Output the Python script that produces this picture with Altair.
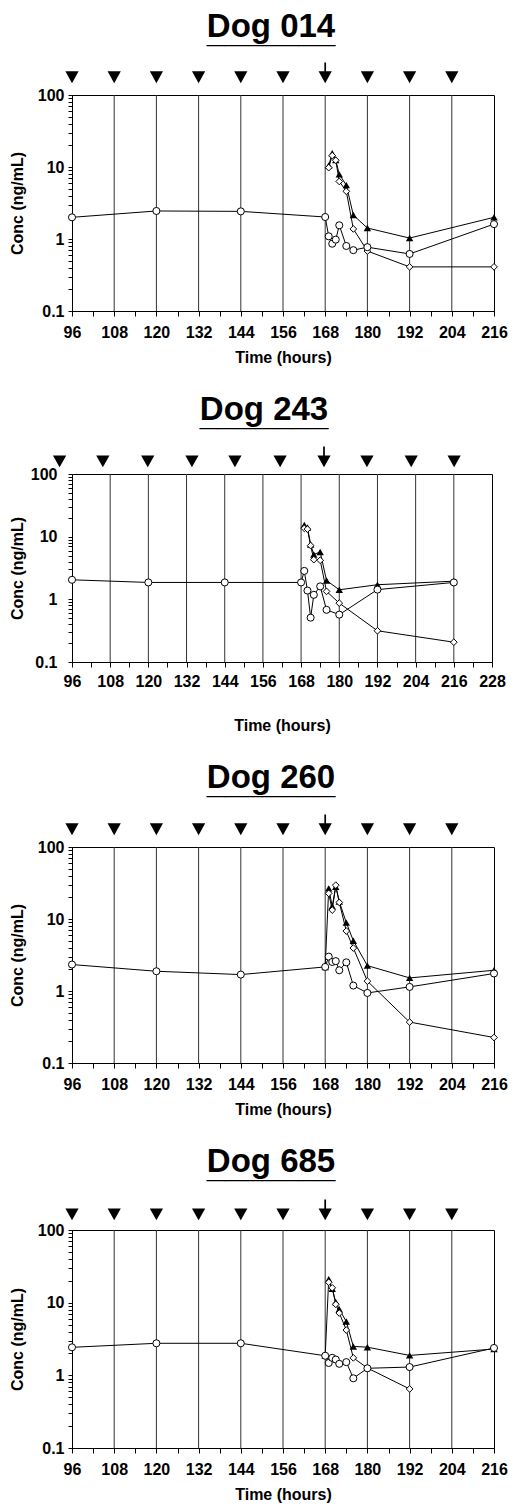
import altair as alt
import pandas as pd

# ---------------- data ----------------
titles = ["Dog 014", "Dog 243", "Dog 260", "Dog 685"]

# Dog 014
d014_circ_t = [96, 120, 144, 168, 169, 170, 171, 172, 174, 176, 180, 192, 216]
d014_circ_v = [2.0, 2.45, 2.42, 2.02, 1.09, 0.86, 0.98, 1.55, 0.80, 0.70, 0.77, 0.62, 1.61]
d014_tri_t = [169, 170, 171, 172, 174, 176, 180, 192, 216]
d014_tri_v = [10.5, 15.5, 12.5, 7.9, 5.6, 2.15, 1.42, 1.03, 2.0]
d014_dia_t = [169, 170, 171, 172, 174, 176, 180, 192, 216]
d014_dia_v = [9.8, 14.4, 12.4, 6.3, 4.6, 1.38, 0.68, 0.41, 0.41]

# Dog 243
d243_circ_t = [96, 120, 144, 168, 169, 170, 171, 172, 174, 176, 180, 192, 216]
d243_circ_v = [2.05, 1.86, 1.86, 1.86, 2.84, 1.38, 0.51, 1.18, 1.61, 0.68, 0.57, 1.43, 1.86]
d243_tri_t = [169, 170, 171, 172, 174, 176, 180, 192, 216]
d243_tri_v = [15.4, 14.0, 7.5, 5.2, 5.7, 2.0, 1.42, 1.71, 1.95]
d243_dia_t = [169, 170, 171, 172, 174, 176, 180, 192, 216]
d243_dia_v = [13.6, 13.2, 7.2, 4.3, 4.2, 1.34, 0.87, 0.315, 0.207]

# Dog 260
d260_circ_t = [96, 120, 144, 168, 169, 170, 171, 172, 174, 176, 180, 192, 216]
d260_circ_v = [2.33, 1.88, 1.69, 2.16, 3.0, 2.53, 2.6, 1.94, 2.5, 1.19, 0.94, 1.14, 1.75]
d260_tri_t = [168, 169, 170, 171, 172, 174, 176, 180, 192, 216]
d260_tri_v = [2.16, 26.6, 15.0, 28.0, 17.5, 8.9, 5.0, 2.25, 1.52, 1.94]
d260_dia_t = [169, 170, 171, 172, 174, 176, 180, 192, 216]
d260_dia_v = [22.7, 13.3, 29.5, 17.0, 6.8, 3.95, 1.37, 0.37, 0.226]

# Dog 685
d685_circ_t = [96, 120, 144, 168, 169, 170, 171, 172, 174, 176, 180, 192, 216]
d685_circ_v = [2.43, 2.76, 2.76, 1.86, 1.48, 1.74, 1.65, 1.44, 1.52, 0.91, 1.25, 1.30, 2.38]
d685_tri_t = [168, 169, 170, 171, 172, 174, 176, 180, 192, 216]
d685_tri_v = [1.86, 21.0, 15.5, 10.2, 8.1, 5.5, 2.5, 2.44, 1.88, 2.3]
d685_dia_t = [169, 170, 171, 172, 174, 176, 180, 192]
d685_dia_v = [19.1, 16.0, 9.5, 7.2, 4.2, 1.74, 1.26, 0.65]

# dosing markers (times) and the level they sit at above the plot
dose_t_std = [96, 108, 120, 132, 144, 156, 168, 180, 192, 204]
dose_t_243 = [92.1, 105.7, 119.8, 133.7, 147.2, 161.4, 175.2, 188.7, 202.6, 216.1]
dose_kind = ["dose", "dose", "dose", "dose", "dose", "dose", "arrow", "dose", "dose", "dose"]
dose_level = [178, 161, 178, 166]

grid_std = [108, 120, 132, 144, 156, 168, 180, 192, 204]
grid_243 = [108, 120, 132, 144, 156, 168, 180, 192, 204, 216]

y_ticks = [0.1, 0.2, 0.3, 0.4, 0.5, 0.6, 0.7, 0.8, 0.9,
           1, 2, 3, 4, 5, 6, 7, 8, 9,
           10, 20, 30, 40, 50, 60, 70, 80, 90, 100]

TRI_PATH = "M-1,-0.85L1,-0.85L0,0.95Z"
ARROW_PATH = "M-1,-0.85L1,-0.85L0,0.95Z M-0.13,-0.85L0.13,-0.85L0.13,-2.2L-0.13,-2.2Z"


def panel(title, width, height, xmax, grid_t, ct, cv, tt, tv, dt, dv,
          dose_t, level, xlabpad, xtitlepad, ylabpad, ytitlepad, toff, tdx):
    X = alt.X("t:Q",
              scale=alt.Scale(domain=[96, xmax], nice=False, zero=False),
              axis=alt.Axis(values=list(range(96, xmax + 1, 6)),
                            labelExpr="datum.value % 12 == 0 ? datum.label : ''",
                            grid=False, tickSize=5, labelPadding=xlabpad,
                            titlePadding=xtitlepad, title="Time (hours)",
                            labelOverlap=False, labelFlush=False))
    Y = alt.Y("v:Q",
              scale=alt.Scale(type="log", domain=[0.1, 100], nice=False),
              axis=alt.Axis(values=y_ticks,
                            labelExpr="indexof([0.1,1,10,100], datum.value) >= 0 ? format(datum.value, '~g') : ''",
                            grid=False, tickSize=4, labelPadding=ylabpad,
                            titlePadding=ytitlepad, title="Conc (ng/mL)",
                            labelOverlap=False))

    circ = pd.DataFrame({"t": ct, "v": cv, "s": "circle"})
    tri = pd.DataFrame({"t": tt, "v": tv, "s": "triangle"})
    dia = pd.DataFrame({"t": dt, "v": dv, "s": "diamond"})
    allser = pd.concat([circ, tri, dia], ignore_index=True)
    dose = pd.DataFrame({"t": dose_t, "v": [level] * len(dose_t), "k": dose_kind})
    grid = pd.DataFrame({"t": grid_t})

    g = alt.Chart(grid).mark_rule(color="#333333", strokeWidth=1).encode(x=X)
    lines = alt.Chart(allser).mark_line(color="black", strokeWidth=1).encode(
        x=X, y=Y, detail="s:N", order="t:Q")
    tri_pts = alt.Chart(tri).mark_point(shape="triangle-up", filled=True, color="black",
                                        opacity=1, size=55).encode(x=X, y=Y)
    dia_pts = alt.Chart(dia).mark_point(shape="diamond", filled=True, fill="white",
                                        stroke="black", strokeWidth=1, opacity=1,
                                        size=45).encode(x=X, y=Y)
    circ_pts = alt.Chart(circ).mark_point(shape="circle", filled=True, fill="white",
                                          stroke="black", strokeWidth=1, opacity=1,
                                          size=50).encode(x=X, y=Y)
    dose_pts = alt.Chart(dose).mark_point(filled=True, color="black", opacity=1,
                                          size=175).encode(
        x=X, y=Y,
        shape=alt.Shape("k:N", scale=alt.Scale(domain=["dose", "arrow"],
                                               range=[TRI_PATH, ARROW_PATH]),
                        legend=None))
    return alt.layer(g, lines, tri_pts, dia_pts, circ_pts, dose_pts).properties(
        width=width, height=height,
        title=alt.TitleParams(text=title, subtitle="_" * len(title), offset=toff,
                              fontSize=33, font="Liberation Sans", fontWeight="bold",
                              color="black", anchor="middle", dx=tdx,
                              subtitleFontSize=33, subtitleFont="Liberation Sans",
                              subtitleFontWeight="bold", subtitleColor="black",
                              subtitlePadding=-28))


p1 = panel(titles[0], 422, 216, 216, grid_std, d014_circ_t, d014_circ_v, d014_tri_t,
           d014_tri_v, d014_dia_t, d014_dia_v, dose_t_std, dose_level[0], 8, 9, 4, 12, 13, -12)
p2 = panel(titles[1], 420, 188, 228, grid_243, d243_circ_t, d243_circ_v, d243_tri_t,
           d243_tri_v, d243_dia_t, d243_dia_v, dose_t_243, dose_level[1], 6, 28, 11, 5, 14, -18)
p3 = panel(titles[2], 422, 216, 216, grid_std, d260_circ_t, d260_circ_v, d260_tri_t,
           d260_tri_v, d260_dia_t, d260_dia_v, dose_t_std, dose_level[2], 8, 9, 4, 12, 14, -12)
p4 = panel(titles[3], 422, 218, 216, grid_std, d685_circ_t, d685_circ_v, d685_tri_t,
           d685_tri_v, d685_dia_t, d685_dia_v, dose_t_std, dose_level[3], 8, 9, 4, 12, 15, -12)

chart = alt.ConcatChart(concat=[p1, p2, p3, p4], columns=1, spacing=27,
                        padding={"top": 2, "left": 0, "right": 0, "bottom": 0}).configure_view(
    stroke="black", strokeWidth=1).configure_axis(
    domainColor="black", tickColor="black", labelColor="black", titleColor="black",
    labelFont="Liberation Sans", titleFont="Liberation Sans",
    labelFontWeight="bold", titleFontWeight="bold",
    labelFontSize=16, titleFontSize=16, domainWidth=1)

chart.save("out.html", embed_options={"renderer": "svg", "actions": False})
